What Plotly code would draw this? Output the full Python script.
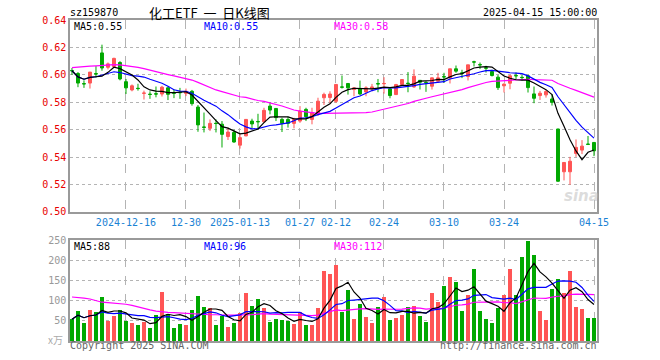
import pandas as pd
import plotly.graph_objects as go

# ---------------- data ----------------
holidays = ["2025-01-01", "2025-01-28", "2025-01-29", "2025-01-30", "2025-01-31",
            "2025-02-03", "2025-02-04", "2025-04-04"]
dates = [d.strftime("%Y-%m-%d") for d in pd.bdate_range("2024-12-03", "2025-04-15")
         if d.strftime("%Y-%m-%d") not in holidays]

tick_dates = ["2024-12-16", "2024-12-30", "2025-01-13", "2025-01-27", "2025-02-12",
              "2025-02-24", "2025-03-10", "2025-03-24", "2025-04-15"]
tick_labels = ["2024-12-16", "12-30", "2025-01-13", "01-27", "02-12",
               "02-24", "03-10", "03-24", "04-15"]

open_ = [0.6032, 0.6010, 0.5936, 0.5940, 0.6009, 0.6160, 0.6055, 0.6060, 0.6090, 0.5950,
         0.5890, 0.5902, 0.5865, 0.5859, 0.5862, 0.5860, 0.5905, 0.5868, 0.5872, 0.5865,
         0.5880, 0.5765, 0.5620, 0.5610, 0.5647, 0.5640, 0.5550, 0.5580, 0.5487, 0.5555,
         0.5663, 0.5660, 0.5658, 0.5772, 0.5755, 0.5675, 0.5675, 0.5646, 0.5663, 0.5748,
         0.5675, 0.5712, 0.5833, 0.5835, 0.5807, 0.5912, 0.5937, 0.5893, 0.5900, 0.5875,
         0.5898, 0.5936, 0.5935, 0.5898, 0.5856, 0.5929, 0.5939, 0.5912, 0.5960, 0.5944,
         0.5917, 0.5954, 0.5987, 0.5978, 0.6044, 0.6014, 0.5988, 0.6095, 0.6075, 0.6051,
         0.6024, 0.5983, 0.5920, 0.5939, 0.5995, 0.5982, 0.5993, 0.5861, 0.5849, 0.5854,
         0.5824, 0.5605, 0.5293, 0.5293, 0.5427, 0.5451, 0.5495, 0.5507]
high = [0.6050, 0.6020, 0.5960, 0.6020, 0.6064, 0.6220, 0.6090, 0.6125, 0.6100, 0.5970,
        0.5930, 0.5935, 0.5885, 0.5880, 0.5915, 0.5920, 0.5915, 0.5895, 0.5905, 0.5900,
        0.5890, 0.5780, 0.5725, 0.5675, 0.5675, 0.5663, 0.5615, 0.5600, 0.5573, 0.5677,
        0.5680, 0.5716, 0.5760, 0.5800, 0.5757, 0.5687, 0.5695, 0.5687, 0.5772, 0.5760,
        0.5760, 0.5833, 0.5870, 0.5880, 0.5932, 0.5995, 0.5940, 0.5910, 0.5958, 0.5917,
        0.5934, 0.5970, 0.5983, 0.5900, 0.5934, 0.5966, 0.6020, 0.6040, 0.5960, 0.5954,
        0.5980, 0.6015, 0.6015, 0.6044, 0.6068, 0.6037, 0.6073, 0.6103, 0.6090, 0.6066,
        0.6037, 0.6000, 0.5939, 0.6000, 0.6017, 0.6000, 0.6000, 0.5915, 0.5883, 0.5890,
        0.5859, 0.5607, 0.5363, 0.5402, 0.5529, 0.5524, 0.5554, 0.5510]
low = [0.6000, 0.5910, 0.5905, 0.5900, 0.5980, 0.6030, 0.6040, 0.6050, 0.5960, 0.5860,
       0.5880, 0.5885, 0.5820, 0.5825, 0.5836, 0.5842, 0.5816, 0.5830, 0.5825, 0.5845,
       0.5775, 0.5585, 0.5580, 0.5590, 0.5580, 0.5470, 0.5525, 0.5505, 0.5462, 0.5552,
       0.5610, 0.5602, 0.5650, 0.5712, 0.5663, 0.5583, 0.5615, 0.5610, 0.5650, 0.5663,
       0.5639, 0.5700, 0.5780, 0.5795, 0.5795, 0.5900, 0.5856, 0.5844, 0.5851, 0.5844,
       0.5880, 0.5873, 0.5863, 0.5829, 0.5856, 0.5920, 0.5873, 0.5905, 0.5893, 0.5876,
       0.5893, 0.5941, 0.5941, 0.5937, 0.6015, 0.5976, 0.5959, 0.6061, 0.6042, 0.6017,
       0.5988, 0.5890, 0.5871, 0.5895, 0.5964, 0.5959, 0.5871, 0.5793, 0.5817, 0.5834,
       0.5776, 0.5220, 0.5230, 0.5198, 0.5402, 0.5422, 0.5488, 0.5407]
close = [0.6030, 0.5940, 0.5934, 0.6020, 0.6007, 0.6050, 0.6080, 0.6120, 0.5970, 0.5905,
         0.5920, 0.5900, 0.5867, 0.5857, 0.5860, 0.5910, 0.5858, 0.5866, 0.5870, 0.5880,
         0.5790, 0.5635, 0.5617, 0.5646, 0.5645, 0.5566, 0.5583, 0.5510, 0.5542, 0.5675,
         0.5642, 0.5658, 0.5741, 0.5743, 0.5688, 0.5646, 0.5646, 0.5675, 0.5736, 0.5695,
         0.5724, 0.5808, 0.5857, 0.5860, 0.5930, 0.5910, 0.5905, 0.5905, 0.5861, 0.5905,
         0.5912, 0.5934, 0.5937, 0.5849, 0.5929, 0.5966, 0.5937, 0.5990, 0.5946, 0.5942,
         0.5978, 0.5978, 0.5985, 0.6044, 0.6027, 0.6012, 0.6073, 0.6093, 0.6073, 0.6049,
         0.5995, 0.5907, 0.5932, 0.5993, 0.5993, 0.5980, 0.5907, 0.5829, 0.5866, 0.5878,
         0.5800, 0.5224, 0.5361, 0.5370, 0.5471, 0.5480, 0.5493, 0.5446]
volume = [54, 74, 45, 77, 72, 110, 50, 62, 77, 50,
          45, 40, 47, 32, 64, 122, 66, 32, 42, 40,
          77, 112, 85, 82, 40, 61, 35, 45, 69, 119,
          87, 104, 82, 47, 54, 52, 49, 42, 71, 40,
          40, 82, 174, 167, 187, 72, 127, 54, 92, 59,
          45, 84, 110, 52, 57, 64, 84, 87, 62, 47,
          119, 97, 135, 159, 147, 74, 114, 177, 74, 54,
          44, 82, 114, 179, 114, 207, 247, 214, 74, 52,
          129, 154, 119, 174, 84, 79, 57, 57]
# MA30 values for the first 29 sessions (history before the window)
ma30_head = [0.6053, 0.6058, 0.6061, 0.6063, 0.6066, 0.6069, 0.6072, 0.6074, 0.6072, 0.6068,
             0.6062, 0.6055, 0.6045, 0.6033, 0.6022, 0.6012, 0.6002, 0.5992, 0.5982, 0.5973,
             0.5962, 0.5945, 0.5925, 0.5905, 0.5890, 0.5878, 0.5866, 0.5853, 0.5840]
vol_ma30_head = [109, 108, 106, 104, 100, 96, 95, 94, 93, 91,
                 88, 84, 80, 77, 74, 72, 71, 70, 69, 68,
                 67, 66, 66, 65, 65, 64, 64, 64, 64]

header_code = "sz159870"
header_title = "化工ETF&nbsp;&nbsp;一&nbsp;&nbsp;日K线图"
header_time = "2025-04-15 15:00:00"
price_ma_text = ["MA5:0.55", "MA10:0.55", "MA30:0.58"]
vol_ma_text = ["MA5:88", "MA10:96", "MA30:112"]
price_ticks = [0.50, 0.52, 0.54, 0.56, 0.58, 0.60, 0.62, 0.64]
vol_ticks = [50, 100, 150, 200, 250]

# ---------------- derived ----------------
idx = list(range(len(dates)))
tick_idx = [dates.index(d) for d in tick_dates]

cs = pd.Series(close)
ma5 = cs.rolling(5, min_periods=1).mean()
ma10 = cs.rolling(10, min_periods=1).mean()
ma30 = cs.rolling(30).mean()
ma30.iloc[:len(ma30_head)] = ma30_head

vs = pd.Series(volume, dtype=float)
vma5 = vs.rolling(5, min_periods=1).mean()
vma10 = vs.rolling(10, min_periods=1).mean()
vma30 = vs.rolling(30).mean()
vma30.iloc[:len(vol_ma30_head)] = vol_ma30_head

RED = "#ff5555"
GREEN = "#00a800"
MONO = "DejaVu Sans Mono"
vol_colors = [RED if c >= o else GREEN for o, c in zip(open_, close)]

fig = go.Figure()
fig.add_trace(go.Candlestick(
    x=idx, open=open_, high=high, low=low, close=close,
    increasing=dict(line=dict(color=RED, width=1), fillcolor=RED),
    decreasing=dict(line=dict(color=GREEN, width=1), fillcolor=GREEN),
    whiskerwidth=0, showlegend=False, hoverinfo="skip", xaxis="x", yaxis="y"))
for s, col in [(ma30, "#ff00ff"), (ma10, "#0000ff"), (ma5, "#000000")]:
    fig.add_trace(go.Scatter(x=idx, y=s, mode="lines", line=dict(color=col, width=1.2),
                             showlegend=False, hoverinfo="skip", xaxis="x", yaxis="y"))

fig.add_trace(go.Bar(x=idx, y=volume, marker=dict(color=vol_colors, line=dict(width=0)),
                     width=0.78, showlegend=False, hoverinfo="skip", xaxis="x2", yaxis="y2"))
for s, col in [(vma30, "#ff00ff"), (vma10, "#0000ff"), (vma5, "#000000")]:
    fig.add_trace(go.Scatter(x=idx, y=s, mode="lines", line=dict(color=col, width=1.2),
                             showlegend=False, hoverinfo="skip", xaxis="x2", yaxis="y2"))

xr = [-0.33, 87.5]
axis_common = dict(showline=True, mirror=True, linecolor="#9a9a9a", linewidth=1.5,
                   zeroline=False, ticks="")
fig.update_layout(
    width=660, height=360,
    margin=dict(l=70, r=63, t=20, b=19),
    paper_bgcolor="white", plot_bgcolor="white",
    bargap=0,
    xaxis=dict(domain=[0, 1], anchor="y", range=xr, tickmode="array", tickvals=tick_idx,
               ticktext=tick_labels, showgrid=True, gridcolor="#b4b4b4", griddash="dash",
               gridwidth=1.3, tickfont=dict(family=MONO, size=10, color="#1a82d4"),
               rangeslider=dict(visible=False), **axis_common),
    yaxis=dict(domain=[0.402, 1], anchor="x", range=[0.50, 0.64], tickmode="array",
               tickvals=price_ticks, tickformat=".2f", showgrid=True, gridcolor="#b4b4b4",
               griddash="dot", gridwidth=1,
               tickfont=dict(family=MONO, size=10, color="#e80000"), **axis_common),
    xaxis2=dict(domain=[0, 1], anchor="y2", range=xr, tickmode="array", tickvals=tick_idx,
                showticklabels=False, showgrid=True, gridcolor="#b4b4b4", griddash="dash",
                gridwidth=1.3, **axis_common),
    yaxis2=dict(domain=[0, 0.3146], anchor="x2", range=[0, 250], tickmode="array",
                tickvals=vol_ticks, showgrid=True, gridcolor="#b4b4b4", griddash="dot",
                gridwidth=1, tickfont=dict(family=MONO, size=10, color="#999999"),
                **axis_common),
)


def px_x(x):
    return (x - 70) / 527.0


def px_y(y):
    return (341 - y) / 321.0


def note(text, x, y, anchor="left", color="#000", size=10, family=MONO, **kw):
    fig.add_annotation(text=text, x=px_x(x), y=px_y(y), xref="paper", yref="paper",
                       xanchor=anchor, yanchor="middle", showarrow=False,
                       font=dict(family=family, size=size, color=color), borderpad=0, **kw)


note(header_code, 69, 12)
note(header_title, 209, 12, anchor="center", size=13, family="Noto Sans CJK SC")
note(header_time, 598, 12, anchor="right")
ma_cols = ["#000000", "#0000ff", "#ff00ff"]
ma_x = [73, 203, 333]
for t, c, x in zip(price_ma_text, ma_cols, ma_x):
    note(t, x, 26.5, color=c)
for t, c, x in zip(vol_ma_text, ma_cols, ma_x):
    note(t, x, 246.5, color=c)
note("Copyright 2025 SINA.COM", 69, 346, color="#666666")
note("http://finance.sina.com.cn", 598, 346, anchor="right", color="#666666")
note("x万", 64, 339, anchor="right", color="#aaaaaa", family="Noto Sans CJK SC")
note("<i><b>sina</b></i>", 581, 196, anchor="center", color="rgba(190,190,190,0.55)",
     size=15, family="DejaVu Sans")

fig.write_html("out.html", config={"displayModeBar": False},
               post_script="document.body.style.margin='0';document.body.style.overflow='hidden';")
